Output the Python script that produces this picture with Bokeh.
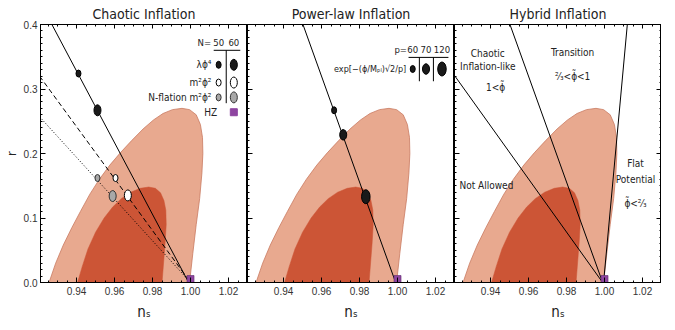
from bokeh.plotting import figure
from bokeh.layouts import row
from bokeh.models import LinearAxis, FixedTicker, NumeralTickFormatter, Label, Range1d, CustomJSTickFormatter
from bokeh.embed import file_html
from bokeh.resources import INLINE

# ---------------- data ----------------
# confidence contours (n_s, r)
outer_ns = [0.9255, 0.9290, 0.9330, 0.9375, 0.9420, 0.9470, 0.9520, 0.9575, 0.9630,
            0.9690, 0.9750, 0.9805, 0.9855, 0.9905, 0.9955, 0.9995, 1.0030, 1.0052,
            1.0063, 1.0065, 1.0060, 1.0048, 1.0030, 1.0012, 0.9995]
outer_r = [0.000, 0.030, 0.058, 0.085, 0.110, 0.137, 0.160, 0.182, 0.201,
           0.220, 0.238, 0.252, 0.262, 0.268, 0.270, 0.268, 0.260, 0.245,
           0.225, 0.200, 0.170, 0.130, 0.090, 0.045, 0.000]
inner_ns = [0.9405, 0.9430, 0.9460, 0.9500, 0.9545, 0.9590, 0.9635, 0.9685, 0.9735,
            0.9780, 0.9815, 0.9842, 0.9860, 0.9870, 0.9872, 0.9866, 0.9858, 0.9850]
inner_r = [0.000, 0.025, 0.052, 0.078, 0.100, 0.117, 0.130, 0.140, 0.146,
           0.148, 0.146, 0.139, 0.127, 0.112, 0.090, 0.060, 0.030, 0.000]

# chaotic inflation (N = 50, 60)
N_labels = ["50", "60"]
lam_ns = [0.941, 0.951]
lam_r = [0.324, 0.267]
m2_ns = [0.9605, 0.967]
m2_r = [0.162, 0.135]
nfl_ns = [0.951, 0.959]
nfl_r = [0.162, 0.134]
lam_line_ns = [0.927, 0.999]
lam_line_r = [0.400, 0.000]
m2_line_ns = [0.9205, 1.000]
m2_line_r = [0.320, 0.000]
nfl_line_ns = [0.9205, 1.000]
nfl_line_r = [0.257, 0.000]

# Harrison-Zel'dovich
HZ_ns = [1.0]
HZ_r = [0.0]

# power-law inflation (p = 60, 70, 120)
p_labels = ["60", "70", "120"]
pl_ns = [0.9666, 0.9714, 0.9833]
pl_r = [0.267, 0.229, 0.133]
pl_line_ns = [0.9502, 0.999]
pl_line_r = [0.400, 0.000]

# hybrid inflation boundaries
hyb_a_ns = [0.9205, 0.999]
hyb_a_r = [0.323, 0.000]
hyb_b_ns = [0.9502, 0.999]
hyb_b_r = [0.400, 0.000]
hyb_c_ns = [1.0120, 0.9995]
hyb_c_r = [0.400, 0.000]

x_ticks = [0.94, 0.96, 0.98, 1.00, 1.02]
x_minor = [round(0.92 + 0.005 * i, 3) for i in range(24)]
y_ticks = [0.0, 0.1, 0.2, 0.3, 0.4]
y_minor = [round(0.01 * i, 2) for i in range(41)]

# ---------------- style ----------------
X0, X1 = 0.921, 1.030
Y0, Y1 = 0.0, 0.4
FW, FH = 207, 258
FONT = "DejaVu Sans Condensed"
TICKFONT = "Liberation Sans"
LIGHT = "#E8A98F"
LIGHT_EDGE = "#C97B62"
DARK = "#CC5536"
PURPLE = "#8E45A0"
TXT = "#222222"
BLANK = CustomJSTickFormatter(code="return ''")


def style_axis(ax, ticks, minor, fmt, labels=True):
    ax.ticker = FixedTicker(ticks=ticks, minor_ticks=minor)
    ax.major_tick_in = 5
    ax.major_tick_out = 0
    ax.minor_tick_in = 2
    ax.minor_tick_out = 0
    ax.axis_line_color = "black"
    ax.major_tick_line_color = "black"
    ax.minor_tick_line_color = "black"
    ax.major_label_text_font = TICKFONT
    ax.major_label_text_font_size = "10px"
    ax.major_label_text_color = "#333333"
    ax.major_label_standoff = 4
    if labels:
        ax.formatter = NumeralTickFormatter(format=fmt)
    else:
        ax.formatter = BLANK
        ax.major_label_standoff = 0


def make_panel(title, first=False, last=False):
    p = figure(frame_width=FW, frame_height=FH,
               x_range=Range1d(X0, X1), y_range=Range1d(Y0, Y1),
               output_backend="svg", toolbar_location=None, title=title,
               min_border_left=0, min_border_right=0, min_border_top=0, min_border_bottom=0)
    p.background_fill_color = "white"
    p.border_fill_color = "white"
    p.outline_line_color = "black"
    p.xgrid.visible = False
    p.ygrid.visible = False
    p.title.align = "center"
    p.title.text_font = FONT
    p.title.text_font_size = "14px"
    p.title.text_font_style = "normal"
    p.title.text_color = TXT
    p.title.standoff = 6
    style_axis(p.xaxis[0], x_ticks, x_minor, "0.00")
    p.xaxis.axis_label = "n\u209b"
    p.xaxis.axis_label_text_font = FONT
    p.xaxis.axis_label_text_font_size = "15px"
    p.xaxis.axis_label_text_font_style = "normal"
    p.xaxis.axis_label_text_color = TXT
    p.xaxis.axis_label_standoff = 5
    style_axis(p.yaxis[0], y_ticks, y_minor, "0.0", labels=first)
    if first:
        p.yaxis.axis_label = "r"
        p.yaxis.axis_label_text_font = FONT
        p.yaxis.axis_label_text_font_size = "13px"
        p.yaxis.axis_label_text_font_style = "normal"
        p.yaxis.axis_label_text_color = TXT
        p.yaxis.axis_label_standoff = 2
        p.yaxis.major_label_standoff = 3
    top = LinearAxis()
    style_axis(top, x_ticks, x_minor, "0.00", labels=False)
    top.major_tick_in = 4
    p.add_layout(top, "above")
    if last:
        right = LinearAxis()
        style_axis(right, y_ticks, y_minor, "0.0", labels=False)
        p.add_layout(right, "right")
    # contours
    p.patch(outer_ns, outer_r, fill_color=LIGHT, line_color=LIGHT_EDGE, line_width=0.8)
    p.patch(inner_ns, inner_r, fill_color=DARK, line_color=DARK, line_width=0.5)
    return p


def hz_square(p):
    dx = (X1 - X0) / FW
    dy = (Y1 - Y0) / FH
    p.quad(left=[n - 3.5 * dx for n in HZ_ns], right=[n + 3.5 * dx for n in HZ_ns],
           bottom=HZ_r, top=[r + 7 * dy for r in HZ_r],
           fill_color=PURPLE, line_color="#5E2A6E", line_width=0.6)


def dot(p, x, y, w, h, fill, line="black"):
    p.ellipse(x=x, y=y, width=w, height=h, width_units="screen", height_units="screen",
              fill_color=fill, line_color=line, line_width=1)


def label(p, x, y, text, align="center", size="10px"):
    p.add_layout(Label(x=x, y=y, text=text, text_align=align, text_baseline="middle",
                       text_font=FONT, text_font_size=size, text_color=TXT,
                       text_line_height=1.15))


PHI = "\u03d5"
PHIT = "\u03d5\u0303"
TWO3 = "\u00b2\u2044\u2083"

# ---------------- panel 1: chaotic ----------------
p1 = make_panel("Chaotic Inflation", first=True)
p1.line(lam_line_ns, lam_line_r, line_color="black", line_width=1)
p1.line(m2_line_ns, m2_line_r, line_color="black", line_width=1, line_dash="5 3")
p1.line(nfl_line_ns, nfl_line_r, line_color="black", line_width=1, line_dash="1 2")
hz_square(p1)
dot(p1, lam_ns[:1], lam_r[:1], 5, 7, "#1a1a1a")
dot(p1, lam_ns[1:], lam_r[1:], 7, 11, "#1a1a1a")
dot(p1, m2_ns[:1], m2_r[:1], 5, 7, "white")
dot(p1, m2_ns[1:], m2_r[1:], 7, 11, "white")
dot(p1, nfl_ns[:1], nfl_r[:1], 5, 7, "#A8A8A8", "#333333")
dot(p1, nfl_ns[1:], nfl_r[1:], 7, 11, "#A8A8A8", "#333333")

# legend table
lx_text, lx_c1, lx_c2, lx_sep = 1.0110, 1.0148, 1.0228, 1.0188
label(p1, 1.0108, 0.372, "N=", align="right", size="9.5px")
label(p1, lx_c1, 0.372, N_labels[0], size="9.5px")
label(p1, lx_c2, 0.372, N_labels[1], size="9.5px")
p1.line([1.0122, 1.0262], [0.360, 0.360], line_color="black", line_width=1)
p1.line([lx_sep, lx_sep], [0.360, 0.278], line_color="black", line_width=1)
rows = [0.3375, 0.310, 0.287, 0.264]
label(p1, lx_text, rows[0], "\u03bb" + PHI + "\u2074", align="right")
label(p1, lx_text, rows[1], "m\u00b2" + PHI + "\u00b2", align="right")
label(p1, lx_text, rows[2], "N-flation m\u00b2" + PHI + "\u00b2", align="right")
label(p1, lx_text + 0.003, rows[3], "HZ", align="right")
dot(p1, [lx_c1], [rows[0]], 5, 7, "#1a1a1a")
dot(p1, [lx_c2], [rows[0]], 7, 11, "#1a1a1a")
dot(p1, [lx_c1], [rows[1]], 5, 7, "white")
dot(p1, [lx_c2], [rows[1]], 7, 11, "white")
dot(p1, [lx_c1], [rows[2]], 5, 7, "#A8A8A8", "#333333")
dot(p1, [lx_c2], [rows[2]], 7, 11, "#A8A8A8", "#333333")
p1.rect(x=[lx_c2], y=[rows[3]], width=7, height=7, width_units="screen", height_units="screen",
        fill_color=PURPLE, line_color=PURPLE)

# ---------------- panel 2: power law ----------------
p2 = make_panel("Power-law Inflation")
p2.line(pl_line_ns, pl_line_r, line_color="black", line_width=1)
hz_square(p2)
dot(p2, pl_ns[:1], pl_r[:1], 5, 7, "#1a1a1a")
dot(p2, pl_ns[1:2], pl_r[1:2], 7, 10.5, "#1a1a1a")
dot(p2, pl_ns[2:], pl_r[2:], 8.5, 14, "#1a1a1a")

px_text, pcols = 1.0046, [1.0080, 1.0150, 1.0234]
label(p2, 1.0050, 0.361, "p=", align="right", size="9.5px")
for c, t in zip(pcols, p_labels):
    label(p2, c, 0.361, t, size="9.5px")
p2.line([1.0058, 1.0268], [0.349, 0.349], line_color="black", line_width=1)
for s in (1.0115, 1.0189):
    p2.line([s, s], [0.349, 0.312], line_color="black", line_width=1)
label(p2, px_text, 0.331, "exp[\u2212(" + PHI + "/M\u209a\u2097)\u221a2/p]", align="right", size="9px")
dot(p2, [pcols[0]], [0.331], 5, 7, "#1a1a1a")
dot(p2, [pcols[1]], [0.331], 7, 10.5, "#1a1a1a")
dot(p2, [pcols[2]], [0.331], 8.5, 14, "#1a1a1a")

# ---------------- panel 3: hybrid ----------------
p3 = make_panel("Hybrid Inflation", last=True)
p3.line(hyb_a_ns, hyb_a_r, line_color="black", line_width=1)
p3.line(hyb_b_ns, hyb_b_r, line_color="black", line_width=1)
p3.line(hyb_c_ns, hyb_c_r, line_color="black", line_width=1)
hz_square(p3)
label(p3, 0.9385, 0.345, "Chaotic\nInflation-like")
label(p3, 0.9426, 0.302, "1<" + PHIT)
label(p3, 0.9832, 0.357, "Transition")
label(p3, 0.9832, 0.320, TWO3 + "<" + PHIT + "<1")
label(p3, 0.9378, 0.151, "Not Allowed")
label(p3, 1.0163, 0.184, "Flat")
label(p3, 1.0163, 0.159, "Potential")
label(p3, 1.0163, 0.122, PHIT + "<" + TWO3)

layout = row(p1, p2, p3, spacing=0)
open("out.html", "w").write(file_html(layout, INLINE))
